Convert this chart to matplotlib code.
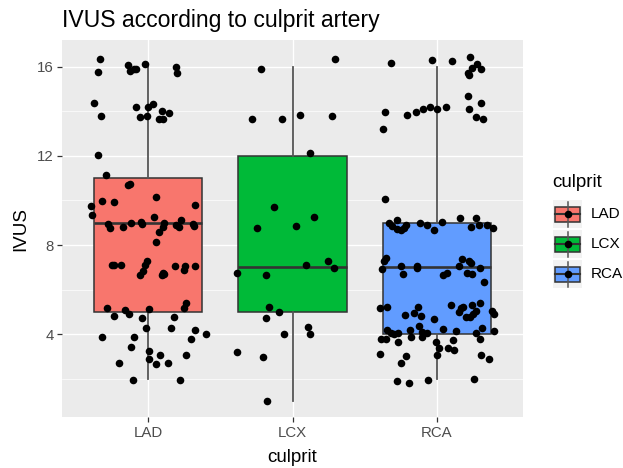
import matplotlib
matplotlib.use("Agg")
import matplotlib.pyplot as plt
from matplotlib.patches import Rectangle
from matplotlib.ticker import MultipleLocator
import numpy as np

plt.rcParams['font.family'] = ['Liberation Sans', 'DejaVu Sans']

# ---------------- data ----------------
categories = ["LAD", "LCX", "RCA"]
colors = ["#F8766D", "#00BA38", "#619CFF"]

# box statistics (lower whisker, Q1, median, Q3, upper whisker)
whislo = [2, 1, 2]
q1 = [5, 5, 4]
med = [9, 7, 7]
q3 = [11, 12, 9]
whishi = [16, 16, 16]

# jittered points: horizontal offset from category centre, IVUS value
lad_dx = [-0.338, -0.348, -0.140, -0.128, -0.098, -0.086, -0.021, 0.189, 0.201, -0.376,
          -0.331, -0.084, -0.005, 0.035, 0.091, 0.145, -0.058, -0.007, 0.072, 0.100,
          -0.348, -0.292, -0.140, -0.128, 0.054, -0.322, -0.238, -0.401, -0.394, 0.320,
          0.037, -0.278, -0.266, -0.175, -0.121, -0.049, -0.044, 0.107, 0.100, 0.072,
          0.189, 0.210, 0.310, 0.313, 0.229, 0.054, -0.254, -0.236, -0.187, -0.012,
          -0.026, -0.035, -0.058, 0.100, 0.091, 0.110, 0.182, 0.254, 0.247, 0.320,
          0.264, 0.247, -0.285, -0.166, -0.138, 0.007, -0.238, -0.047, 0.175, -0.019,
          0.154, 0.320, 0.399, -0.322, -0.100, 0.292, -0.121, 0.007, 0.082, 0.264,
          0.007, 0.054, 0.135, -0.201, -0.110, 0.219]
lad_val = [16.36, 15.76, 16.09, 15.82, 15.87, 15.87, 16.12, 15.97, 15.70, 14.38,
           13.78, 14.20, 14.18, 14.33, 14.03, 13.91, 13.72, 13.78, 13.66, 13.66,
           12.02, 11.15, 10.70, 10.76, 10.17, 9.97, 9.91, 9.76, 9.34, 9.81,
           9.27, 8.94, 8.75, 8.82, 8.97, 9.03, 8.94, 8.97, 8.82, 8.61,
           8.88, 8.81, 8.96, 8.84, 9.11, 8.15, 7.12, 7.12, 7.12, 7.28,
           7.10, 6.83, 6.64, 6.76, 6.64, 6.72, 7.06, 7.06, 6.88, 7.06,
           5.42, 5.18, 5.20, 5.09, 4.90, 5.12, 4.84, 4.72, 4.77, 4.30,
           4.30, 4.19, 4.00, 3.90, 3.90, 3.78, 3.43, 3.25, 3.07, 3.07,
           2.91, 2.67, 2.73, 2.73, 1.95, 1.95]

lcx_dx = [0.292, -0.222, -0.278, -0.075, 0.054, 0.275, 0.119, -0.128, 0.147, -0.247,
          0.026, 0.246, 0.091, 0.285, -0.385, -0.184, -0.166, -0.093, -0.184, 0.107,
          0.119, -0.056, -0.385, -0.203, -0.175]
lcx_val = [16.36, 15.88, 13.66, 13.66, 13.84, 13.78, 12.14, 9.69, 9.27, 8.75,
           8.87, 7.28, 7.10, 6.99, 6.76, 6.64, 5.24, 5.00, 4.72, 4.31,
           4.01, 4.01, 3.19, 3.01, 1.03]

rca_dx = [-0.313, -0.030, 0.110, 0.230, 0.278, 0.243, 0.306, 0.215, 0.226, 0.217,
          0.306, 0.226, -0.359, -0.203, -0.140, -0.096, -0.049, 0.000, 0.063, 0.277,
          0.324, -0.369, -0.359,
          -0.329, -0.306, -0.275, -0.275, -0.247, -0.229, -0.212, -0.112, -0.065, -0.021,
          0.035, 0.161, 0.273, 0.236, 0.292, 0.348, 0.392,
          -0.352, -0.362, -0.376, -0.250, -0.231, -0.138, -0.138, 0.044, 0.072, 0.154,
          0.180, 0.208, 0.227, 0.239, 0.243, 0.299, 0.327,
          -0.394, -0.341, -0.222, -0.156, -0.128, -0.110, -0.019, 0.098, 0.154, 0.173,
          0.184, 0.243, 0.301, 0.273, 0.255, 0.231, 0.203, 0.385, 0.397, 0.044,
          -0.119, -0.184, -0.341, -0.318, -0.294, -0.268, -0.100, -0.100, -0.068, -0.176,
          0.135, 0.273, 0.318, 0.397, -0.386, -0.348, -0.268, -0.002, 0.014, 0.115,
          0.082, 0.121, 0.299, 0.005, -0.394, -0.212, -0.250, 0.310, 0.366, -0.275,
          -0.194, -0.056, 0.257]
rca_val = [16.18, 16.30, 16.24, 16.42, 16.12, 15.94, 15.88, 15.73, 15.64, 14.66,
           14.38, 14.08, 13.97, 13.84, 13.96, 14.08, 14.20, 14.08, 14.20, 13.72,
           13.66, 13.19, 10.05,
           9.00, 8.85, 9.11, 8.73, 8.70, 8.78, 8.88, 9.00, 8.88, 8.70,
           9.03, 9.23, 9.23, 8.82, 8.88, 8.88, 8.76,
           7.43, 7.28, 6.94, 7.06, 6.72, 7.06, 6.99, 6.64, 6.73, 7.06,
           7.39, 6.76, 7.28, 7.18, 6.72, 6.99, 6.36,
           5.20, 5.24, 4.88, 4.94, 5.24, 4.82, 4.67, 5.30, 5.00, 5.20,
           5.24, 5.34, 5.42, 5.04, 4.90, 4.77, 4.77, 5.07, 4.90, 4.26,
           4.37, 4.19, 4.22, 4.07, 4.00, 4.07, 4.10, 3.90, 4.07, 3.90,
           4.15, 4.07, 4.30, 4.15, 3.78, 3.78, 3.66, 3.66, 3.40, 3.75,
           3.40, 3.30, 3.78, 3.07, 3.14, 3.03, 2.73, 3.07, 2.91, 1.90,
           1.84, 1.95, 2.02]

yticks = [4, 8, 12, 16]

# ---------------- figure ----------------
W, H = 623, 468
fig = plt.figure(figsize=(W / 100, H / 100), dpi=100)
fig.patch.set_facecolor("white")

L, R, T, B = 62, 523, 40, 417
ax = fig.add_axes([L / W, 1 - B / H, (R - L) / W, (B - T) / H])
ax.set_facecolor("#EBEBEB")
for s in ax.spines.values():
    s.set_visible(False)

stats = []
for i in range(3):
    stats.append(dict(whislo=whislo[i], q1=q1[i], med=med[i], q3=q3[i],
                      whishi=whishi[i], fliers=[]))
bp = ax.bxp(stats, positions=[1, 2, 3], widths=0.75, patch_artist=True,
            showcaps=False, showfliers=False,
            boxprops=dict(edgecolor="#333333", lw=1.1),
            whiskerprops=dict(color="#555555", lw=1.3),
            medianprops=dict(color="#333333", lw=1.9))
for patch, c in zip(bp["boxes"], colors):
    patch.set_facecolor(c)

for i, (dx, val) in enumerate([(lad_dx, lad_val), (lcx_dx, lcx_val), (rca_dx, rca_val)]):
    ax.scatter(i + 1 + np.array(dx), val, s=30, color="black", linewidths=0, zorder=5)

ax.set_xlim(0.4, 3.6)
ax.set_ylim(0.30, 17.19)
ax.set_yticks(yticks)
ax.set_yticklabels([str(v) for v in yticks])
ax.yaxis.set_minor_locator(MultipleLocator(2))
ax.set_xticks([1, 2, 3])
ax.set_xticklabels(categories)
ax.set_axisbelow(True)
ax.grid(which="major", color="white", lw=1.0)
ax.grid(which="minor", axis="y", color="white", lw=0.5)
ax.tick_params(which="major", length=3.4, width=0.9, color="#333333",
               labelcolor="#4D4D4D", labelsize=10.8)
ax.tick_params(axis="x", pad=3.0)
ax.tick_params(axis="y", pad=2.5)
ax.tick_params(which="minor", length=0)

# titles
fig.text(62 / W, 1 - 27 / H, "IVUS according to culprit artery", fontsize=16.6,
         color="black", va="baseline", ha="left")
fig.text((L + R) / 2 / W, 1 - 462 / H, "culprit", fontsize=13.5, color="black",
         ha="center", va="baseline")
fig.text(21 / W, 1 - 229 / H, "IVUS", fontsize=13.5, color="black",
         rotation=90, ha="center", va="center")

# legend (drawn in pixel coordinates)
lg = fig.add_axes([0, 0, 1, 1])
lg.set_xlim(0, W)
lg.set_ylim(H, 0)
lg.axis("off")
lg.text(552, 187, "culprit", fontsize=13.5, color="black", ha="left", va="baseline")
key_centers = [214, 244, 274]
for cy, c, lab in zip(key_centers, colors, categories):
    lg.add_patch(Rectangle((553, cy - 14.2), 29, 28.4, facecolor="#F2F2F2", edgecolor="none"))
    lg.plot([567.5, 567.5], [cy - 12.5, cy + 12.5], color="#555555", lw=1.1)
    lg.add_patch(Rectangle((555, cy - 7.5), 25, 15, facecolor=c, edgecolor="#333333", lw=1.1))
    lg.plot([555, 580], [cy, cy], color="#333333", lw=1.5)
    lg.scatter([567.5], [cy], s=30, color="black", linewidths=0, zorder=5)
    lg.text(591, cy, lab, fontsize=11, color="black", ha="left", va="center")

fig.savefig("out.png", dpi=100)
